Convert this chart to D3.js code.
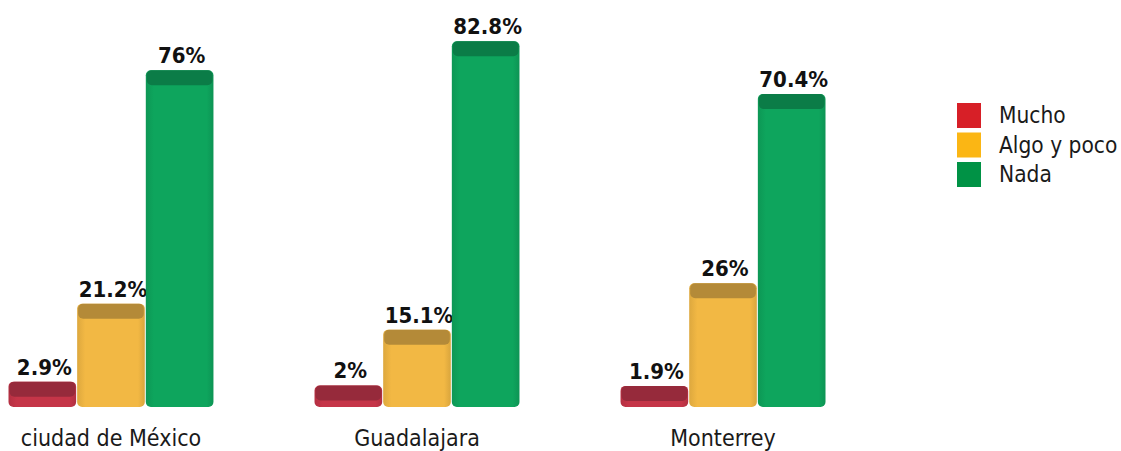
<!DOCTYPE html>
<html><head><meta charset="utf-8">
<script src="https://cdn.jsdelivr.net/npm/d3@7"></script>
<style>body{margin:0;background:#fff}svg{display:block}</style>
</head><body>
<svg id="c" width="1121" height="451"></svg>
<script>
const cities = ["ciudad de México", "Guadalajara", "Monterrey"];
const series = ["Mucho", "Algo y poco", "Nada"];
const mucho = [2.9, 2, 1.9];
const algoYPoco = [21.2, 15.1, 26];
const nada = [76, 82.8, 70.4];
const labels = [["2.9%", "21.2%", "76%"], ["2%", "15.1%", "82.8%"], ["1.9%", "26%", "70.4%"]];

const bodyColors = ["#c53548", "#f2b844", "#0ea55d"];
const faceColors = ["#962a3b", "#b48a38", "#0b7c47"];
const legendColors = ["#d71f27", "#fbb614", "#009245"];

const svg = d3.select("#c");
const baseline = 407, depth = 13;
const y = d3.scaleLinear().domain([0, 100]).range([baseline, baseline - 426]);
const x0 = d3.scaleBand().domain(cities).range([8, 826]).paddingInner(0.327).paddingOuter(0);
const x1 = d3.scaleBand().domain(series).range([0, x0.bandwidth()]).padding(0);

const values = [mucho, algoYPoco, nada];
const data = [];
cities.forEach((c, ci) => series.forEach((s, si) => data.push({c, s, ci, si, v: values[si][ci], label: labels[ci][si]})));

const defs = svg.append("defs");
bodyColors.forEach((col, i) => {
  const g = defs.append("linearGradient").attr("id", "g" + i).attr("x1", 0).attr("x2", 1);
  g.append("stop").attr("offset", "0%").attr("stop-color", d3.color(col).darker(0.25));
  g.append("stop").attr("offset", "12%").attr("stop-color", col);
  g.append("stop").attr("offset", "90%").attr("stop-color", col);
  g.append("stop").attr("offset", "100%").attr("stop-color", d3.color(col).darker(0.3));
});

const bars = svg.append("g").selectAll("g").data(data).join("g")
  .attr("transform", d => `translate(${x0(d.c) + x1(d.s)},0)`);
const w = x1.bandwidth();
bars.append("rect")
  .attr("x", 0.5).attr("width", w - 1)
  .attr("y", d => y(d.v) - depth).attr("height", d => baseline - y(d.v) + depth)
  .attr("rx", 5).attr("fill", d => `url(#g${d.si})`);
bars.append("rect")
  .attr("x", 1.5).attr("width", w - 3)
  .attr("y", d => y(d.v) - depth).attr("height", depth + 2)
  .attr("rx", 5).attr("fill", d => faceColors[d.si]);
bars.append("text")
  .attr("x", w / 2 + 2).attr("y", d => y(d.v) - depth - 7)
  .attr("text-anchor", "middle")
  .attr("font-family", "DejaVu Sans Condensed, DejaVu Sans")
  .attr("font-stretch", "condensed")
  .attr("font-weight", "bold").attr("font-size", 22).attr("fill", "#111")
  .text(d => d.label);

svg.append("g").selectAll("text").data(cities).join("text")
  .attr("x", d => x0(d) + x0.bandwidth() / 2).attr("y", 446)
  .attr("text-anchor", "middle")
  .attr("font-family", "DejaVu Sans Condensed, DejaVu Sans")
  .attr("font-stretch", "condensed")
  .attr("font-size", 23).attr("fill", "#1a1a1a")
  .text(d => d);

const lg = svg.append("g").attr("transform", "translate(957,103)");
const li = lg.selectAll("g").data(series).join("g").attr("transform", (d, i) => `translate(0,${i * 29.5})`);
li.append("rect").attr("width", 24).attr("height", 25).attr("fill", (d, i) => legendColors[i]);
li.append("text").attr("x", 42).attr("y", 20)
  .attr("font-family", "DejaVu Sans Condensed, DejaVu Sans")
  .attr("font-stretch", "condensed")
  .attr("font-size", 22.5).attr("fill", "#1a1a1a").text(d => d);
</script>
</body></html>
